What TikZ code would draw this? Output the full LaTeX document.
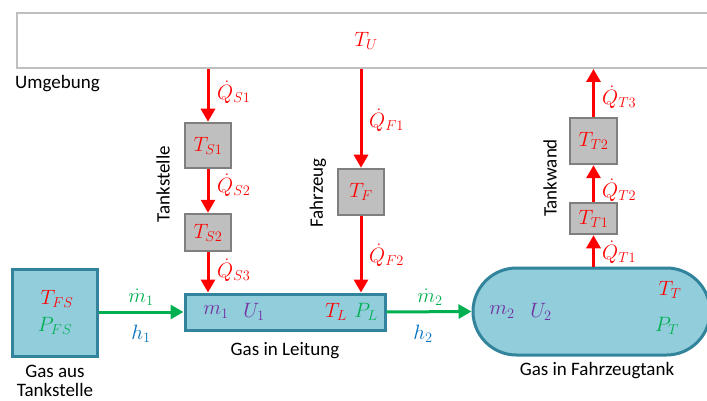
\documentclass[tikz,border=0pt]{standalone}
\usepackage{fontspec}
\setmainfont{Carlito}
\usetikzlibrary{arrows.meta}
\definecolor{hred}{HTML}{FF0000}
\definecolor{hgreen}{HTML}{00B050}
\definecolor{hblue}{HTML}{0070C0}
\definecolor{hpurple}{HTML}{7030A0}
\definecolor{tealfill}{HTML}{92CDDC}
\definecolor{tealline}{HTML}{31849B}
\definecolor{grayfill}{HTML}{BFBFBF}
\definecolor{grayline}{HTML}{7F7F7F}
\definecolor{envline}{HTML}{BFBFBF}
\tikzset{
  txt/.style={font=\fontsize{19}{22}\selectfont, inner sep=0pt},
  mth/.style={font=\fontsize{22}{26}\selectfont, inner sep=0pt},
  graybox/.style={draw=grayline, fill=grayfill, line width=2.5pt, inner sep=0pt, minimum width=46pt},
  tealbox/.style={draw=tealline, fill=tealfill, line width=3pt, inner sep=0pt},
  heat/.style={draw=hred, line width=3pt, -{Triangle[width=14pt,length=13pt]}},
  flow/.style={draw=hgreen, line width=3pt, -{Triangle[width=14pt,length=13pt]}},
}
\begin{document}
\begin{tikzpicture}[x=1pt,y=-1pt]
\useasboundingbox (0,0) rectangle (707,401);
% environment
\node[draw=envline, line width=2pt, minimum width=706pt, minimum height=55pt, inner sep=0pt, anchor=north west] (env) at (16,12) {};
\node[mth, text=hred] (TU) at (366,41) {$T_U$};
\node[txt, anchor=west] (umg) at (15,84) {Umgebung};
% gray boxes
\node[graybox, minimum height=45pt] (S1) at (208,145.5) {};
\node[mth, text=hred] (tS1) at (S1) {$T_{S1}$};
\node[graybox, minimum height=37pt] (S2) at (208,232.5) {};
\node[mth, text=hred] (tS2) at (S2) {$T_{S2}$};
\node[graybox, minimum height=46pt] (F) at (361,192) {};
\node[mth, text=hred] (tF) at (F) {$T_F$};
\node[graybox, minimum width=47pt, minimum height=46pt] (T2) at (593.5,141) {};
\node[mth, text=hred] (tT2) at (T2) {$T_{T2}$};
\node[graybox, minimum width=47pt, minimum height=31pt] (T1) at (593.5,218.5) {};
\node[mth, text=hred] (tT1) at (T1) {$T_{T1}$};
% rotated labels
\node[txt, rotate=90] (lTank) at (163,184) {Tankstelle};
\node[txt, rotate=90] (lFahr) at (318,193) {Fahrzeug};
\node[txt, rotate=90] (lWand) at (550,178) {Tankwand};
% teal boxes
\node[tealbox, minimum width=200pt, minimum height=36pt] (L) at (285,312) {};
\node[tealbox, minimum width=85pt, minimum height=87pt] (FS) at (54.5,312.5) {};
\node[tealbox, minimum width=237pt, minimum height=87pt, rounded corners=43.5pt] (tank) at (591.5,311.5) {};
% contents
\node[mth, text=hpurple] (m1) at (216,312) {$m_1$};
\node[mth, text=hpurple] (U1) at (254,312) {$U_1$};
\node[mth, text=hred] (TL) at (336,312) {$T_L$};
\node[mth, text=hgreen] (PL) at (366,312) {$P_L$};
\node[mth, text=hred] (TFS) at (57,299) {$T_{FS}$};
\node[mth, text=hgreen] (PFS) at (55,326) {$P_{FS}$};
\node[mth, text=hpurple] (m2) at (502,312) {$m_2$};
\node[mth, text=hpurple] (U2) at (541,312) {$U_2$};
\node[mth, text=hred] (TT) at (670,290) {$T_T$};
\node[mth, text=hgreen] (PT) at (667,326) {$P_T$};
% captions
\node[txt] (cL) at (285,351) {Gas in Leitung};
\node[txt, align=center] (cFS) at (55,381) {Gas aus\\[-3pt]Tankstelle};
\node[txt] (cT) at (597,371) {Gas in Fahrzeugtank};
% heat arrows
\draw[heat] (S1.north |- env.south) -- (S1.north);
\draw[heat] (S1.south) -- (S2.north);
\draw[heat] (S2.south) -- (S2.south |- L.north);
\draw[heat] (F.north |- env.south) -- (F.north);
\draw[heat] (F.south) -- (F.south |- L.north);
\draw[heat] (T1.south |- tank.north) -- (T1.south);
\draw[heat] (T1.north) -- (T2.south);
\draw[heat] (T2.north) -- (T2.north |- env.south);
% heat labels
\node[mth, text=hred, anchor=west] (qS1) at (217,92) {$\dot{Q}_{S1}$};
\node[mth, text=hred, anchor=west] (qS2) at (217,185) {$\dot{Q}_{S2}$};
\node[mth, text=hred, anchor=west] (qS3) at (217,270) {$\dot{Q}_{S3}$};
\node[mth, text=hred, anchor=west] (qF1) at (369,120) {$\dot{Q}_{F1}$};
\node[mth, text=hred, anchor=west] (qF2) at (369,255) {$\dot{Q}_{F2}$};
\node[mth, text=hred, anchor=west] (qT3) at (602,97) {$\dot{Q}_{T3}$};
\node[mth, text=hred, anchor=west] (qT2) at (602,190) {$\dot{Q}_{T2}$};
\node[mth, text=hred, anchor=west] (qT1) at (602,252) {$\dot{Q}_{T1}$};
% mass flows
\draw[flow] (FS.east |- L.west) -- (L.west);
\draw[flow] (L.east) -- (tank.west);
\node[mth, text=hgreen] (md1) at (141,297) {$\dot{m}_1$};
\node[mth, text=hblue] (h1) at (141,334) {$h_1$};
\node[mth, text=hgreen] (md2) at (430,297) {$\dot{m}_2$};
\node[mth, text=hblue] (h2) at (423,334) {$h_2$};
\end{tikzpicture}
\end{document}
